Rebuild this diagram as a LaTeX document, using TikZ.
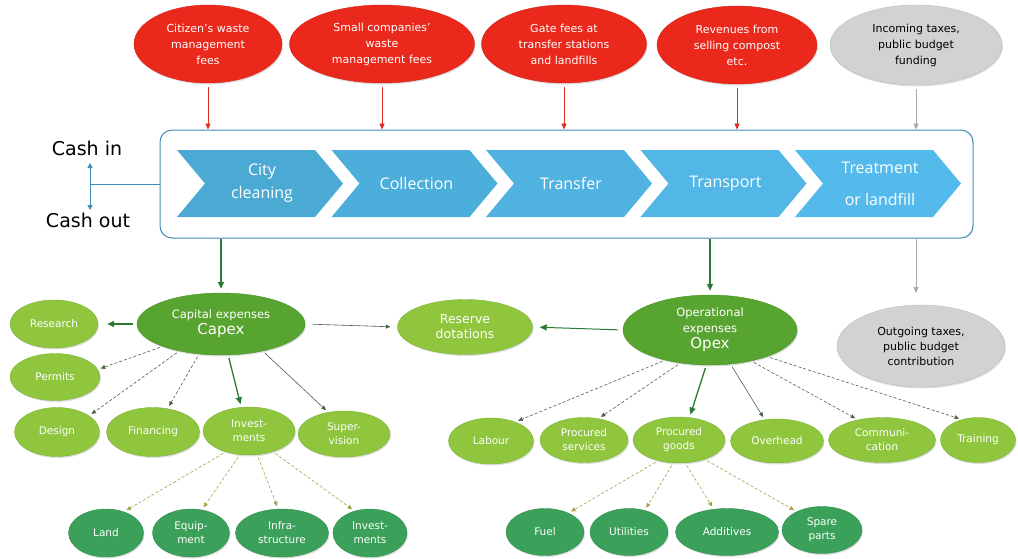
\documentclass[tikz,border=0pt]{standalone}
\usepackage{fontspec}
\setmainfont{DejaVu Sans}
\newfontfamily\chevfont{Open Sans}
\usepackage{xcolor}
\usepackage{tikz}
\usetikzlibrary{arrows.meta,shapes.geometric,shadows}

\definecolor{feered}{RGB}{234,40,28}
\definecolor{feeedge}{RGB}{214,34,22}
\definecolor{taxgrey}{RGB}{210,210,210}
\definecolor{taxedge}{RGB}{188,188,188}
\definecolor{leafgreen}{RGB}{143,198,62}
\definecolor{leafedge}{RGB}{122,180,52}
\definecolor{hubgreen}{RGB}{88,164,48}
\definecolor{hubedge}{RGB}{72,148,40}
\definecolor{subgreen}{RGB}{58,160,90}
\definecolor{subedge}{RGB}{46,142,76}
\definecolor{chevA}{RGB}{74,170,212}
\definecolor{chevB}{RGB}{84,186,236}
\definecolor{boxblue}{RGB}{62,140,180}
\definecolor{arrowgreen}{RGB}{40,122,52}
\definecolor{dashgreen}{RGB}{70,98,70}
\definecolor{olive}{RGB}{165,160,70}
\definecolor{arrowred}{RGB}{222,45,30}
\definecolor{arrowgrey}{RGB}{168,168,168}

\tikzset{
  blob/.style={ellipse, inner sep=0pt, align=center,
    drop shadow={shadow xshift=1pt, shadow yshift=-1.5pt, opacity=0.25}},
  dims/.style 2 args={minimum width=#1pt, minimum height=#2pt},
  fee/.style={blob, fill=feered, draw=feeedge, text=white, font=\fontsize{11}{16}\selectfont},
  tax/.style={blob, fill=taxgrey, draw=taxedge, text=black, font=\fontsize{11}{16}\selectfont},
  hub/.style={blob, fill=hubgreen, draw=hubedge, text=white, font=\fontsize{11.5}{16}\selectfont},
  leaf/.style={blob, fill=leafgreen, draw=leafedge, text=white, font=\fontsize{10.5}{14}\selectfont},
  subleaf/.style={blob, fill=subgreen, draw=subedge, text=white, font=\fontsize{10.5}{14}\selectfont},
  steptext/.style={text=white, align=center, inner sep=0pt},
  cashtext/.style={font=\fontsize{19}{21}\selectfont, inner sep=0pt},
  cashline/.style={draw=boxblue, line width=1pt},
  redarrow/.style={draw=arrowred, line width=0.9pt, -{Triangle[length=6pt,width=5pt]}, shorten <=4pt},
  greyarrow/.style={draw=arrowgrey, line width=0.9pt, -{Triangle[length=6pt,width=5pt]}, shorten <=4pt},
  mainarrow/.style={draw=arrowgreen, line width=1.3pt, -{Triangle[length=7pt,width=6pt]}},
  thinarrow/.style={draw=dashgreen, line width=0.6pt, -{Triangle[length=4.5pt,width=4pt]},
    shorten <=3pt, shorten >=3pt},
  dasharrow/.style={thinarrow, densely dashed},
  olivearrow/.style={dasharrow, draw=olive}
}

\begin{document}
\begin{tikzpicture}[x=1pt, y=-1pt]
  \useasboundingbox (0,0) rectangle (1018,558);

  % incoming money
  \node[fee, dims={148}{78}] (citfee) at (208,44) {Citizen's waste\\management\\fees};
  \node[fee, dims={185}{78}] (smallfee) at (382,44) {Small companies'\\waste\\management fees};
  \node[fee, dims={165}{78}] (gatefee) at (564,44) {Gate fees at\\transfer stations\\and landfills};
  \node[fee, dims={160}{78}] (compost) at (737,45) {Revenues from\\selling compost\\etc.};
  \node[tax, dims={172}{80}] (intax) at (916,45) {Incoming taxes,\\public budget\\funding};

  % value chain
  \node[draw=boxblue, line width=1pt, rounded corners=12pt, inner sep=0pt,
        minimum width=813pt, minimum height=108pt] (chain) at (566.5,184) {};
  \foreach \i/\txt/\lead in {0/{City\\cleaning}/23, 1/Collection/23, 2/Transfer/23,
                             3/Transport/23, 4/{Treatment\\or landfill}/32}{
    \pgfmathsetmacro{\xl}{177+154.5*\i}
    \pgfmathtruncatemacro{\mix}{100-25*\i}
    \fill[chevA!\mix!chevB] (\xl,150) -- ++(138,0) -- ++(28,33.5) -- ++(-28,33.5)
      -- ++(-138,0) -- ++(28,-33.5) -- cycle;
    \node[steptext, font=\chevfont\fontsize{16}{\lead}\selectfont] (step\i) at (\xl+85,183.5) {\txt};
  }

  \node[cashtext] (cashin) at (87,148) {Cash in};
  \node[cashtext] (cashout) at (88,220) {Cash out};
  \coordinate (cashtop) at (90,163);
  \coordinate (cashbot) at (90,210);
  \coordinate (cashmid) at (90,184);
  \draw[cashline, {Triangle[length=5pt,width=5pt]}-{Triangle[length=5pt,width=5pt]}] (cashtop) -- (cashbot);
  \draw[cashline] (cashmid) -- (chain.west);

  % expenses
  \node[hub, dims={168}{62}] (capex) at (221,324) {Capital expenses\\{\fontsize{15}{16}\selectfont Capex}};
  \node[hub, dims={174}{70}] (opex) at (710,330) {Operational\\expenses\\{\fontsize{15}{17}\selectfont Opex}};
  \node[leaf, dims={135}{55}, font=\fontsize{12.5}{15}\selectfont] (reserve) at (465,327) {Reserve\\dotations};
  \node[tax, dims={168}{82}, font=\fontsize{11}{15}\selectfont] (outtax) at (921,346) {Outgoing taxes,\\public budget\\contribution};

  \node[leaf, dims={88}{48}] (research) at (54,324) {Research};
  \node[leaf, dims={90}{47}] (permits) at (55,377) {Permits};
  \node[leaf, dims={85}{49}] (design) at (57,432) {Design};
  \node[leaf, dims={93}{49}] (financing) at (153,432) {Financing};
  \node[leaf, dims={92}{48}] (invest) at (249,431) {Invest-\\ments};
  \node[leaf, dims={92}{46}] (supervision) at (344,434) {Super-\\vision};

  \node[leaf, dims={85}{46}] (labour) at (491,441) {Labour};
  \node[leaf, dims={88}{45}] (procserv) at (584,440) {Procured\\services};
  \node[leaf, dims={92}{46}] (procgoods) at (679,440) {Procured\\goods};
  \node[leaf, dims={93}{44}] (overhead) at (777,441) {Overhead};
  \node[leaf, dims={107}{45}] (communication) at (882,440) {Communi-\\cation};
  \node[leaf, dims={75}{45}] (training) at (978,440) {Training};

  \node[subleaf, dims={75}{48}] (land) at (106,533) {Land};
  \node[subleaf, dims={77}{48}] (equipment) at (191,533) {Equip-\\ment};
  \node[subleaf, dims={93}{48}] (infra) at (282,533) {Infra-\\structure};
  \node[subleaf, dims={74}{48}] (invest2) at (370,533) {Invest-\\ments};

  \node[subleaf, dims={78}{47}] (fuel) at (545,532) {Fuel};
  \node[subleaf, dims={78}{47}] (utilities) at (629,532) {Utilities};
  \node[subleaf, dims={103}{47}] (additives) at (727,532) {Additives};
  \node[subleaf, dims={80}{47}] (spare) at (822,530) {Spare\\parts};

  % cash in
  \foreach \src in {citfee,smallfee,gatefee,compost}
    \draw[redarrow] (\src.south) -- (\src.south |- chain.north);
  \draw[greyarrow] (intax.south) -- (intax.south |- chain.north);

  % cash out
  \draw[mainarrow, shorten >=4pt] (capex |- chain.south) -- (capex.north);
  \draw[mainarrow, shorten >=4pt] (opex |- chain.south) -- (opex.north);
  \draw[greyarrow, shorten <=0pt, shorten >=12pt] (intax |- chain.south) -- (intax |- outtax.north);

  \draw[mainarrow, shorten <=4pt, shorten >=9pt] (capex.west) -- (research.east);
  \draw[thinarrow, shorten >=7pt, shorten <=8pt] (capex.east) -- (reserve.west);
  \draw[mainarrow, line width=1pt, shorten <=5pt, shorten >=7pt] (opex.west) -- (reserve.east);

  \draw[dasharrow] (capex.201) -- (permits.10);
  \draw[dasharrow] (capex.213) -- (design.27);
  \draw[dasharrow] (capex.234) -- (financing.58);
  \draw[mainarrow, shorten <=3pt, shorten >=3pt] (capex.283) -- (invest.108);
  \draw[thinarrow] (capex.327) -- (supervision.126);

  \draw[olivearrow] (invest.222) -- (land.50);
  \draw[olivearrow] (invest.249) -- (equipment.65);
  \draw[olivearrow] (invest.289) -- (infra.99);
  \draw[olivearrow] (invest.319) -- (invest2.125);

  \draw[dasharrow] (opex.214) -- (labour.38);
  \draw[dasharrow] (opex.228) -- (procserv.56);
  \draw[mainarrow, shorten <=3pt, shorten >=3pt] (opex.264) -- (procgoods.65);
  \draw[thinarrow] (opex.301) -- (overhead.120);
  \draw[dasharrow] (opex.323) -- (communication.140);
  \draw[dasharrow] (opex.335) -- (training.128);

  \draw[olivearrow] (procgoods.225) -- (fuel.39);
  \draw[olivearrow] (procgoods.256) -- (utilities.54);
  \draw[olivearrow] (procgoods.285) -- (additives.120);
  \draw[olivearrow] (procgoods.323) -- (spare.144);
\end{tikzpicture}
\end{document}
